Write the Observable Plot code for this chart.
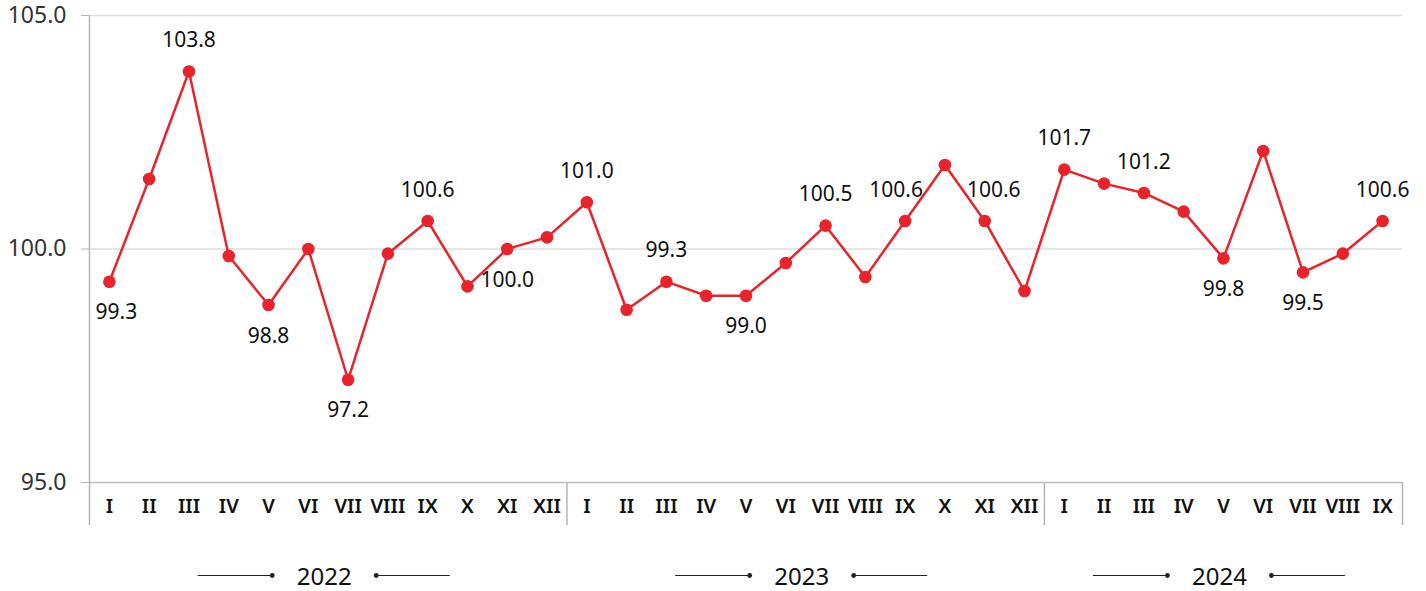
<!DOCTYPE html>
<html>
<head>
<meta charset="utf-8">
<script src="https://cdn.jsdelivr.net/npm/d3@7"></script>
<script src="https://cdn.jsdelivr.net/npm/@observablehq/plot@0.6"></script>
<style>
  html, body { margin: 0; padding: 0; background: #fff; }
  #chart svg { display: block; }
</style>
</head>
<body>
<div id="chart"></div>
<script>
// ---- data ----
const yearNames = ["2022", "2023", "2024"];
const monthsPerYear = [12, 12, 9];
const romanMonths = ["I", "II", "III", "IV", "V", "VI", "VII", "VIII", "IX", "X", "XI", "XII"];
const values2022 = [99.3, 101.5, 103.8, 99.85, 98.8, 100.0, 97.2, 99.9, 100.6, 99.2, 100.0, 100.25];
const values2023 = [101.0, 98.7, 99.3, 99.0, 99.0, 99.7, 100.5, 99.4, 100.6, 101.8, 100.6, 99.1];
const values2024 = [101.7, 101.4, 101.2, 100.8, 99.8, 102.1, 99.5, 99.9, 100.6];
const yTicks = [95, 100, 105];
// annotated points: [year, month number]
const labelsAbove = [["2022", 3], ["2022", 9], ["2023", 1], ["2023", 3], ["2023", 7], ["2023", 9], ["2023", 11], ["2024", 1], ["2024", 3], ["2024", 9]];
const labelsBelow = [["2022", 1], ["2022", 5], ["2022", 7], ["2022", 11], ["2023", 5], ["2024", 5], ["2024", 7]];

// ---- build table ----
const seriesByYear = { "2022": values2022, "2023": values2023, "2024": values2024 };
const data = [];
yearNames.forEach((y, yi) => {
  for (let m = 0; m < monthsPerYear[yi]; m++) {
    data.push({ i: data.length, year: y, m: m + 1, month: romanMonths[m], v: seriesByYear[y][m] });
  }
});
const n = data.length;
const find = ([y, m]) => data.find(d => d.year === y && d.m === m);
const nudge = { "2022-1": 7, "2023-9": -9, "2023-11": 9 };
const key = d => d.year + "-" + d.m;
const above = labelsAbove.map(find);
const below = labelsBelow.map(find);

const yearBlocks = [];
let start = 0;
yearNames.forEach((y, yi) => {
  const end = start + monthsPerYear[yi] - 1;
  yearBlocks.push({ year: y, start, end, center: (start + end) / 2, boundary: end + 0.5 });
  start = end + 1;
});

const red = "#e8232b";
const font = "'Noto Sans', sans-serif";
const labelFmt = d => d.v.toFixed(1);

function valueLabels(list, dy) {
  const groups = d3.groups(list, d => nudge[key(d)] || 0);
  return groups.map(([dx, items]) =>
    Plot.text(items, { x: "i", y: "v", text: labelFmt, dx, dy, fontSize: 21, fill: "#111" })
  );
}

const yx = -4; // small horizontal shift for year captions
const chart = Plot.plot({
  width: 1426,
  height: 591,
  marginLeft: 89,
  marginRight: 24,
  marginTop: 15,
  marginBottom: 109,
  style: { fontFamily: font, background: "#fff", overflow: "visible" },
  x: { type: "linear", domain: [-0.5, n - 0.5], axis: null },
  y: { domain: [95, 105], axis: null },
  marks: [
    Plot.ruleY([100, 105], { stroke: "#dedede", strokeWidth: 1.5 }),
    Plot.ruleY([95], { stroke: "#bdbdbd", strokeWidth: 1.5 }),
    Plot.axisY({ ticks: yTicks, tickSize: 8, tickPadding: 15, stroke: "#b5b5b5", fill: "#333", fontSize: 23, tickFormat: d => d.toFixed(1), label: null }),
    Plot.ruleX([-0.5], { stroke: "#b5b5b5", strokeWidth: 1.5, insetBottom: -43 }),
    Plot.ruleX(yearBlocks, { x: "boundary", y1: 95, y2: 95, stroke: "#b5b5b5", strokeWidth: 1.5, insetBottom: -43 }),
    Plot.text(data, { x: "i", y: 95, text: "month", dy: 24, fontSize: 20, fontWeight: 600, fill: "#111" }),
    Plot.line(data, { x: "i", y: "v", stroke: red, strokeWidth: 2.5 }),
    Plot.dot(data, { x: "i", y: "v", r: 6.3, fill: red, stroke: "none" }),
    ...valueLabels(above, -31),
    ...valueLabels(below, 31),
    Plot.text(yearBlocks, { x: "center", y: 95, text: "year", dx: yx, dy: 95, fontSize: 24, fill: "#111" }),
    Plot.ruleY(yearBlocks, { y: 95, x1: "center", x2: "center", dy: 93, insetLeft: -126 + yx, insetRight: 52 - yx, stroke: "#222", strokeWidth: 1.2 }),
    Plot.ruleY(yearBlocks, { y: 95, x1: "center", x2: "center", dy: 93, insetLeft: 52 + yx, insetRight: -126 - yx, stroke: "#222", strokeWidth: 1.2 }),
    Plot.dot(yearBlocks, { x: "center", y: 95, dx: -52 + yx, dy: 93, r: 2.4, fill: "#222", stroke: "none" }),
    Plot.dot(yearBlocks, { x: "center", y: 95, dx: 52 + yx, dy: 93, r: 2.4, fill: "#222", stroke: "none" })
  ]
});
document.getElementById("chart").appendChild(chart);
</script>
</body>
</html>
